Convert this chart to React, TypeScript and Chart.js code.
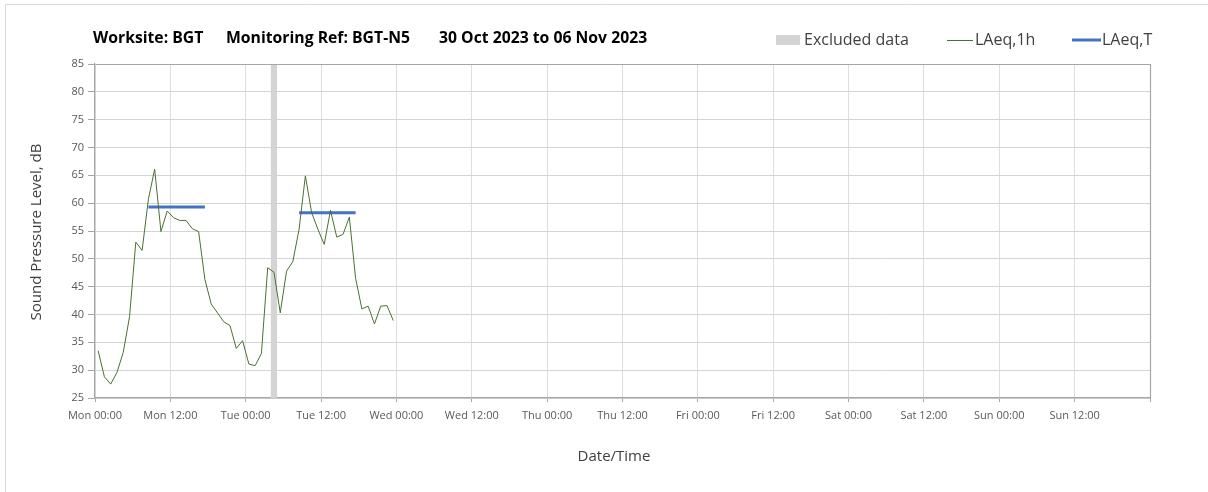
import React, { useEffect, useRef } from "react";
import { Chart, registerables } from "chart.js";

Chart.register(...registerables);

// ---- Data ----
const titleParts = ["Worksite: BGT", "Monitoring Ref: BGT-N5", "30 Oct 2023 to 06 Nov 2023"];
const dayNames = ["Mon", "Tue", "Wed", "Thu", "Fri", "Sat", "Sun"];
const tickTimes = ["00:00", "12:00"];
const yAxisTitle = "Sound Pressure Level, dB";
const xAxisTitle = "Date/Time";
const legendLabels = ["Excluded data", "LAeq,1h", "LAeq,T"];

// Hourly LAeq,1h values starting Mon 00:00 (one per hour)
const laeq1h = [
  33.5, 28.8, 27.5, 29.6, 33.2, 39.6, 53.0, 51.5, 60.7, 66.1, 54.9, 58.6,
  57.4, 56.9, 56.9, 55.4, 54.9, 46.3, 41.9, 40.3, 38.7, 38.0, 33.9, 35.3,
  31.1, 30.8, 33.0, 48.4, 47.6, 40.3, 47.8, 49.5, 55.3, 64.9, 58.3, 55.3,
  52.6, 58.7, 53.9, 54.4, 57.5, 46.5, 41.0, 41.5, 38.3, 41.5, 41.6, 38.9,
];
// LAeq,T levels and their periods (hours from Mon 00:00)
const laeqTLevels = [59.3, 58.3];
const laeqTPeriods = [
  [8.5, 17.5],
  [32.5, 41.5],
];
// Excluded data periods (hours from Mon 00:00)
const excludedPeriods = [[28, 29]];

const X_MAX = 168;
const Y_MIN = 25;
const Y_MAX = 85;

const GREEN = "#4b7030";
const BLUE = "#4472c4";
const FONT = '"Open Sans", "Noto Sans", sans-serif';

function fitText(ctx: CanvasRenderingContext2D, text: string, x: number, y: number, width: number, weight: string, base: number) {
  ctx.font = `${weight} ${base}px ${FONT}`;
  const w = ctx.measureText(text).width;
  const size = Math.max(base * 0.85, Math.min(base * 1.05, (base * width) / w));
  ctx.font = `${weight} ${size}px ${FONT}`;
  ctx.fillText(text, x, y);
}

const decorPlugin = {
  id: "decor",
  beforeDatasetsDraw(chart: any) {
    const { ctx, chartArea, scales } = chart;
    const xs = scales.x;
    ctx.save();
    ctx.fillStyle = "#d4d4d4";
    excludedPeriods.forEach(([a, b]) => {
      const x0 = xs.getPixelForValue(a);
      const x1 = xs.getPixelForValue(b);
      ctx.fillRect(x0, chartArea.top, x1 - x0, chartArea.bottom - chartArea.top);
    });
    ctx.restore();
  },
  afterDraw(chart: any) {
    const { ctx, chartArea } = chart;
    ctx.save();
    // outer frame (top/left visible)
    ctx.strokeStyle = "#d9d9d9";
    ctx.lineWidth = 1;
    ctx.beginPath();
    ctx.moveTo(5.5, 600);
    ctx.lineTo(5.5, 4.5);
    ctx.lineTo(1300, 4.5);
    ctx.stroke();

    // plot area top/right border
    ctx.strokeStyle = "#a6a6a6";
    ctx.lineWidth = 1.2;
    ctx.beginPath();
    ctx.moveTo(Math.round(chartArea.left) + 0.5, Math.round(chartArea.top) + 0.5);
    ctx.lineTo(Math.round(chartArea.right) + 0.5, Math.round(chartArea.top) + 0.5);
    ctx.lineTo(Math.round(chartArea.right) + 0.5, Math.round(chartArea.bottom) + 0.5);
    ctx.stroke();

    // title
    ctx.fillStyle = "#000000";
    ctx.textBaseline = "middle";
    ctx.textAlign = "left";
    fitText(ctx, titleParts[0], 93, 39, 114, "bold", 15);
    fitText(ctx, titleParts[1], 226, 39, 192, "bold", 15);
    fitText(ctx, titleParts[2], 439, 39, 211, "bold", 15);

    // legend
    ctx.font = `normal 16px ${FONT}`;
    ctx.fillStyle = "#d4d4d4";
    ctx.fillRect(776, 35, 24, 10);
    ctx.fillStyle = "#404040";
    ctx.fillText(legendLabels[0], 804, 40);
    ctx.strokeStyle = GREEN;
    ctx.lineWidth = 1;
    ctx.beginPath();
    ctx.moveTo(947, 40.5);
    ctx.lineTo(973, 40.5);
    ctx.stroke();
    ctx.fillText(legendLabels[1], 975, 40);
    ctx.strokeStyle = BLUE;
    ctx.lineWidth = 3;
    ctx.beginPath();
    ctx.moveTo(1072, 40);
    ctx.lineTo(1101, 40);
    ctx.stroke();
    ctx.fillText(legendLabels[2], 1102, 40);

    // axis titles
    ctx.fillStyle = "#404040";
    ctx.textAlign = "center";
    ctx.font = `normal 15px ${FONT}`;
    ctx.fillText(xAxisTitle, 614, 457);
    ctx.translate(37, 232);
    ctx.rotate(-Math.PI / 2);
    ctx.fillText(yAxisTitle, 0, 0);
    ctx.restore();
  },
};

export default function App() {
  const canvasRef = useRef<HTMLCanvasElement | null>(null);

  useEffect(() => {
    const canvas = canvasRef.current;
    if (!canvas) return;

    const lineData = laeq1h.map((v, i) => ({ x: i + 0.5, y: v }));
    const tData: any[] = [];
    laeqTPeriods.forEach(([a, b], i) => {
      if (i > 0) tData.push({ x: (laeqTPeriods[i - 1][1] + a) / 2, y: null });
      tData.push({ x: a, y: laeqTLevels[i] });
      tData.push({ x: b, y: laeqTLevels[i] });
    });

    const chart = new Chart(canvas, {
      type: "line",
      data: {
        datasets: [
          {
            label: legendLabels[1],
            data: lineData,
            borderColor: GREEN,
            borderWidth: 1,
            pointRadius: 0,
            tension: 0,
          },
          {
            label: legendLabels[2],
            data: tData,
            borderColor: BLUE,
            borderWidth: 3,
            pointRadius: 0,
            spanGaps: false,
          },
        ],
      },
      options: {
        responsive: false,
        animation: false,
        events: [],
        layout: { padding: { left: 0, top: 64, right: 58, bottom: 0 } },
        plugins: {
          legend: { display: false },
          title: { display: false },
          tooltip: { enabled: false },
        },
        scales: {
          x: {
            type: "linear",
            min: 0,
            max: X_MAX,
            afterFit: (s: any) => {
              s.height = 94;
            },
            afterBuildTicks: (s: any) => {
              const t = [];
              for (let v = 0; v <= X_MAX; v += 12) t.push({ value: v });
              s.ticks = t;
            },
            ticks: {
              autoSkip: false,
              maxRotation: 0,
              minRotation: 0,
              padding: 7,
              color: "#595959",
              font: { family: FONT, size: 11 },
              callback: (v: any) => {
                const n = Number(v);
                if (n >= X_MAX) return "";
                return `${dayNames[Math.floor(n / 24)]} ${tickTimes[(n % 24) / 12]}`;
              },
            },
            grid: {
              color: "#dedede",
              tickColor: "#a6a6a6",
              tickLength: 4,
              lineWidth: 1,
            },
            border: { color: "#a6a6a6", width: 1.2 },
          },
          y: {
            min: Y_MIN,
            max: Y_MAX,
            afterFit: (s: any) => {
              s.width = 95;
            },
            ticks: {
              stepSize: 5,
              padding: 4,
              color: "#595959",
              font: { family: FONT, size: 11 },
            },
            grid: {
              color: "#d4d4d4",
              tickColor: "#a6a6a6",
              tickLength: 7,
              lineWidth: 1,
            },
            border: { color: "#a6a6a6", width: 1.2 },
          },
        },
      },
      plugins: [decorPlugin],
    });

    return () => chart.destroy();
  }, []);

  return (
    <div style={{ position: "fixed", left: 0, top: 0, width: 1208, height: 492, background: "#ffffff" }}>
      <canvas ref={canvasRef} width={1208} height={492} style={{ display: "block" }} />
    </div>
  );
}
